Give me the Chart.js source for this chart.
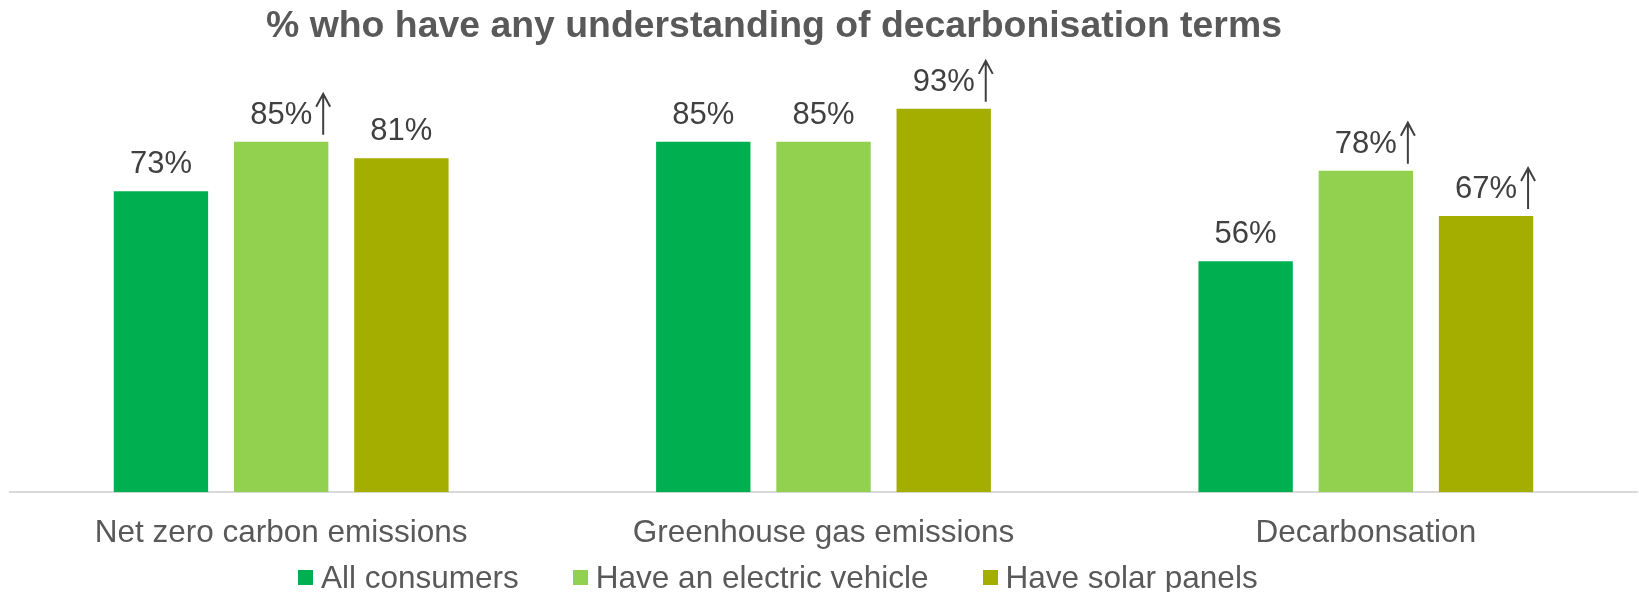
<!DOCTYPE html>
<html>
<head>
<meta charset="utf-8">
<script src="https://cdn.jsdelivr.net/npm/chart.js@4.4.1/dist/chart.umd.min.js"></script>
<style>
    html, body { margin: 0; padding: 0; background: #fff; overflow: hidden; }
    #wrap { position: relative; width: 1639px; height: 592px; }
    #chart { position: absolute; left: 0; top: 0; }
    #title {
        position: absolute; left: 266px; top: 6px;
        font: bold 37.4px/37px "Liberation Sans", Arial, sans-serif;
        color: #595959; white-space: nowrap;
    }
    #legend {
        position: absolute; left: 298px; top: 561px;
        display: flex; font: 31.5px/32px "Liberation Sans", Arial, sans-serif;
        color: #595959; white-space: nowrap;
    }
    #legend .item { display: inline-flex; align-items: center; margin-right: 54px; }
    #legend .box { width: 15px; height: 15px; margin-right: 8px; }
</style>
</head>
<body>
<div id="wrap">
    <canvas id="chart" width="1639" height="592"></canvas>
    <div id="title">% who have any understanding of decarbonisation terms</div>
    <div id="legend"></div>
</div>
<script>
const categories = ['Net zero carbon emissions', 'Greenhouse gas emissions', 'Decarbonsation'];
const seriesNames = ['All consumers', 'Have an electric vehicle', 'Have solar panels'];
const allConsumers = [73, 85, 56];
const electricVehicle = [85, 85, 78];
const solarPanels = [81, 93, 67];
// significantly higher than all consumers
const evUp = [true, false, true];
const solarUp = [false, true, true];
const colors = ['#00B050', '#92D050', '#A4AE00'];

const series = [allConsumers, electricVehicle, solarPanels];
const upFlags = [[false, false, false], evUp, solarUp];

// value labels with an up arrow where the result is significantly higher
const valueLabels = {
    id: 'valueLabels',
    afterDatasetsDraw(chart) {
        const ctx = chart.ctx;
        ctx.save();
        ctx.font = '31px "Liberation Sans", Arial, sans-serif';
        ctx.fillStyle = '#404040';
        ctx.strokeStyle = '#404040';
        ctx.lineWidth = 2;
        ctx.textAlign = 'center';
        ctx.textBaseline = 'alphabetic';
        chart.data.datasets.forEach((ds, i) => {
            chart.getDatasetMeta(i).data.forEach((bar, j) => {
                const txt = ds.data[j] + '%';
                ctx.fillText(txt, bar.x, bar.y - 18);
                if (ds.up[j]) {
                    const ax = bar.x + ctx.measureText(txt).width / 2 + 11;
                    const top = bar.y - 48;
                    ctx.beginPath();
                    ctx.moveTo(ax, bar.y - 7);
                    ctx.lineTo(ax, top);
                    ctx.moveTo(ax - 7, top + 13);
                    ctx.lineTo(ax, top);
                    ctx.lineTo(ax + 7, top + 13);
                    ctx.stroke();
                }
            });
        });
        ctx.restore();
    }
};

const chart = new Chart(document.getElementById('chart'), {
    type: 'bar',
    data: {
        labels: categories,
        datasets: series.map((vals, i) => ({
            label: seriesNames[i],
            data: vals,
            up: upFlags[i],
            backgroundColor: colors[i],
            categoryPercentage: 0.665,
            barPercentage: 0.785
        }))
    },
    options: {
        responsive: false,
        animation: false,
        layout: { padding: { top: 80, left: 10, right: 2, bottom: 18 } },
        plugins: {
            legend: { display: false },
            title: { display: false },
            tooltip: { enabled: false }
        },
        scales: {
            x: {
                grid: { display: false, drawTicks: false },
                border: { display: true, color: '#D9D9D9', width: 2 },
                ticks: {
                    padding: 22,
                    color: '#595959',
                    font: { family: '"Liberation Sans", Arial, sans-serif', size: 31.5 }
                }
            },
            y: {
                display: false,
                min: 0,
                max: 100
            }
        }
    },
    plugins: [valueLabels]
});

// legend built from the series names and colours
const legend = document.getElementById('legend');
seriesNames.forEach((name, i) => {
    const item = document.createElement('span');
    item.className = 'item';
    const box = document.createElement('span');
    box.className = 'box';
    box.style.background = colors[i];
    item.appendChild(box);
    item.appendChild(document.createTextNode(name));
    legend.appendChild(item);
});
</script>
</body>
</html>
